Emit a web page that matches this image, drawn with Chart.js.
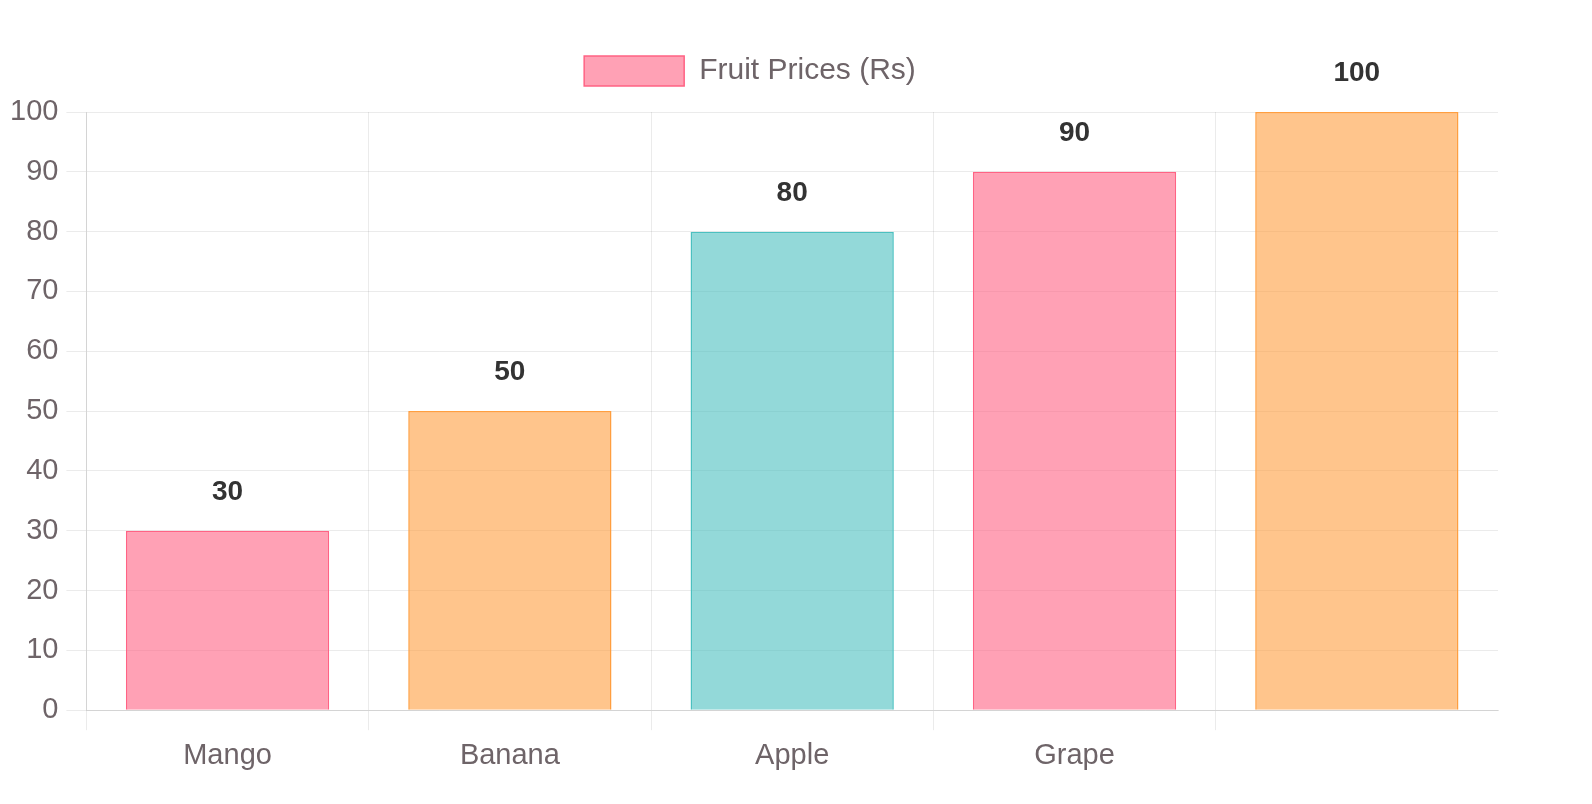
<!DOCTYPE html>
<html>
<head>
<meta charset="utf-8">
<script src="https://cdn.jsdelivr.net/npm/chart.js@4"></script>
<style>
  html, body { margin: 0; padding: 0; background: #fff; }
  #wrap { width: 1592px; height: 804px; position: relative; }
</style>
</head>
<body>
<div id="wrap"><canvas id="c"></canvas></div>
<script>
const categories = ['Mango', 'Banana', 'Apple', 'Grape', ''];
const prices = [30, 50, 80, 90, 100];
const seriesLabel = 'Fruit Prices (Rs)';
const yTicks = { min: 0, max: 100, step: 10 };

const fills = ['rgba(255, 99, 132, 0.6)', 'rgba(255, 159, 64, 0.6)', 'rgba(75, 192, 192, 0.6)'];
const borders = ['rgba(255, 99, 132, 1)', 'rgba(255, 159, 64, 1)', 'rgba(75, 192, 192, 1)'];

const FONT = "'Liberation Sans', Arial, Helvetica, sans-serif";
Chart.defaults.font.family = FONT;
Chart.defaults.font.size = 29;
Chart.defaults.color = '#6e6468';

const valueLabels = {
  id: 'valueLabels',
  afterDatasetsDraw(chart) {
    const ctx = chart.ctx;
    const meta = chart.getDatasetMeta(0);
    ctx.save();
    ctx.font = 'bold 28px ' + FONT;
    ctx.fillStyle = '#333';
    ctx.textAlign = 'center';
    ctx.textBaseline = 'alphabetic';
    meta.data.forEach((bar, i) => {
      ctx.fillText(String(chart.data.datasets[0].data[i]), bar.x, bar.y - 31);
    });
    ctx.restore();
  }
};

const legendSpacer = {
  id: 'legendSpacer',
  beforeInit(chart) {
    const origFit = chart.legend.fit;
    chart.legend.fit = function () {
      origFit.bind(chart.legend)();
      this.height += 16;
    };
  }
};

new Chart(document.getElementById('c'), {
  type: 'bar',
  data: {
    labels: categories,
    datasets: [{
      label: seriesLabel,
      data: prices,
      backgroundColor: fills,
      borderColor: borders,
      borderWidth: 1.5
    }]
  },
  options: {
    responsive: true,
    maintainAspectRatio: false,
    animation: false,
    layout: { padding: { left: 2, right: 94, top: 46, bottom: 23 } },
    plugins: {
      legend: {
        labels: {
          boxWidth: 100,
          boxHeight: 30,
          padding: 10,
          color: '#6e6468',
          font: { size: 30 },
          generateLabels(chart) {
            const items = Chart.defaults.plugins.legend.labels.generateLabels(chart);
            items.forEach(it => { it.fillStyle = fills[0]; it.strokeStyle = borders[0]; it.lineWidth = 1.5; });
            return items;
          }
        }
      },
      tooltip: { enabled: false }
    },
    scales: {
      x: {
        grid: {
          color: ctx => ctx.tick ? 'rgba(0,0,0,0.08)' : 'rgba(0,0,0,0)',
          tickLength: 20,
          offset: true
        },
        border: { display: true, color: 'rgba(0,0,0,0.1)' },
        ticks: { padding: 8, color: '#6e6468', font: { size: 29 } }
      },
      y: {
        min: yTicks.min,
        max: yTicks.max,
        grid: { color: 'rgba(0,0,0,0.08)', tickLength: 20 },
        border: { display: true, color: 'rgba(0,0,0,0.1)' },
        ticks: { stepSize: yTicks.step, padding: 8, color: '#6e6468', font: { size: 29 } }
      }
    }
  },
  plugins: [valueLabels, legendSpacer]
});
</script>
</body>
</html>
